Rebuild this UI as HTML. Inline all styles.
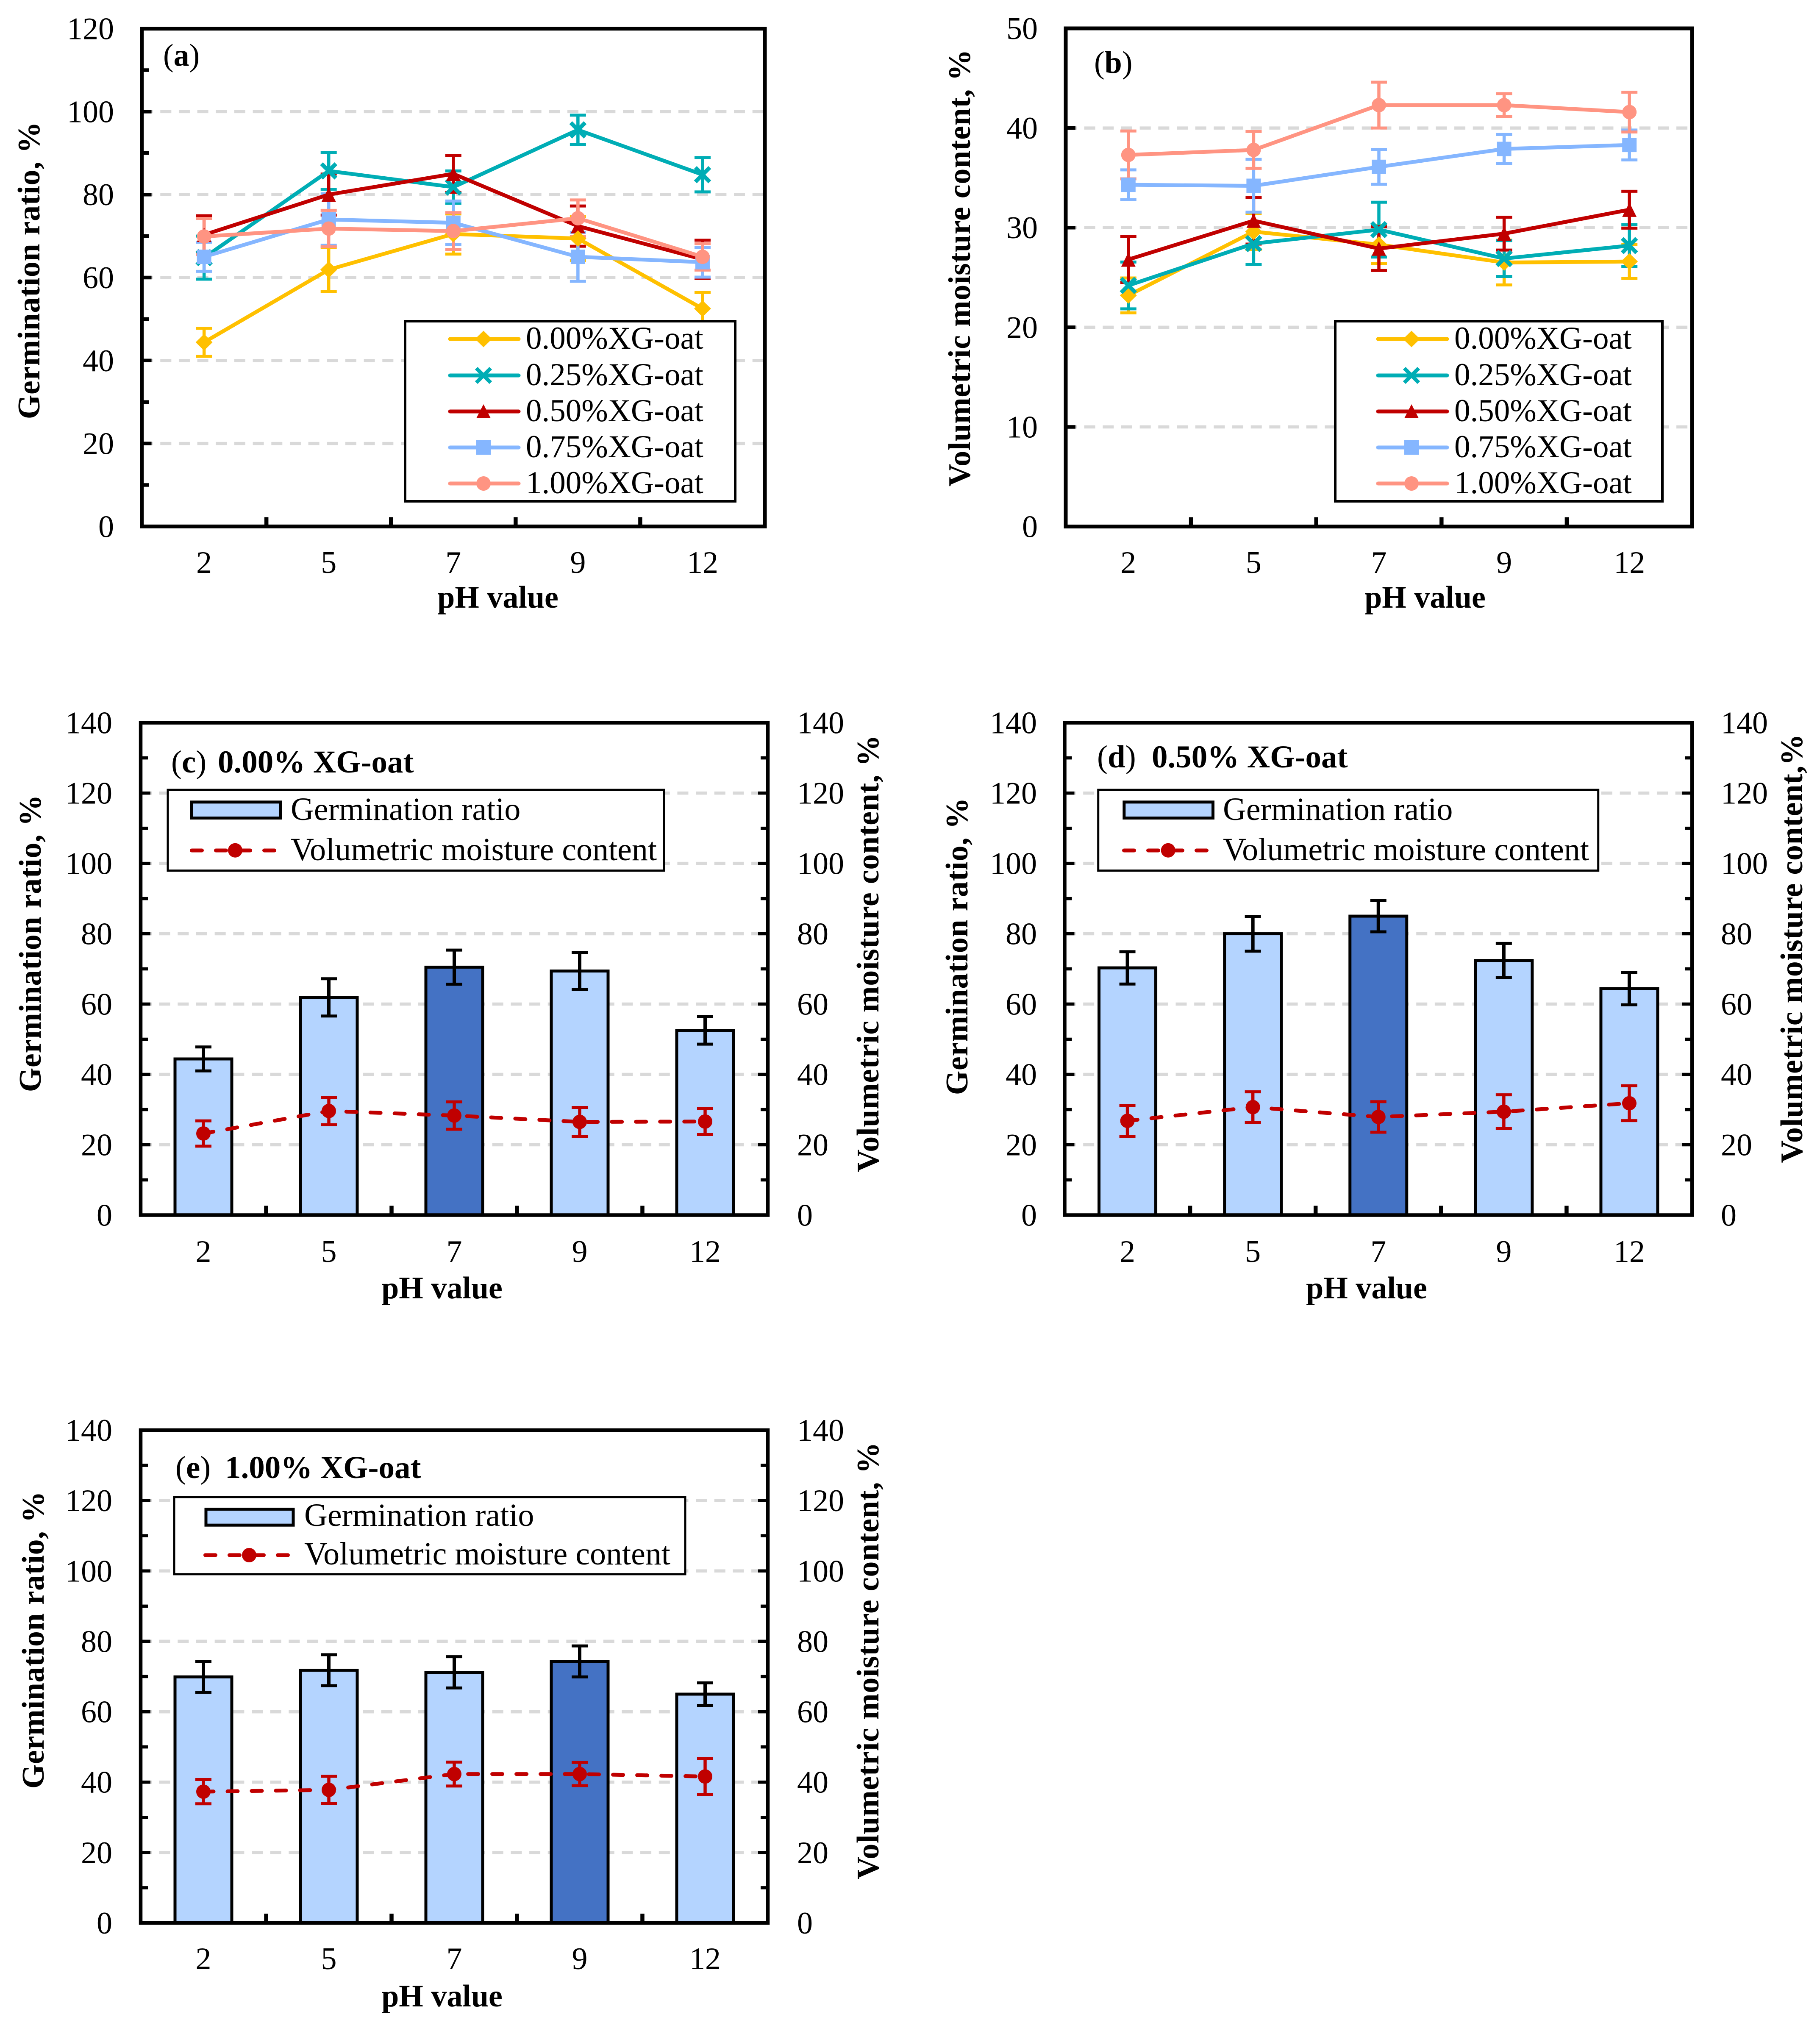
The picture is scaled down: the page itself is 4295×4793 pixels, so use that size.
<!DOCTYPE html>
<html lang="en">
<head>
<meta charset="utf-8">
<title>Germination ratio and volumetric moisture content by pH</title>
<style>
html,body{margin:0;padding:0;background:#fff;}
svg{display:block;}
text{font-family:"Liberation Serif",serif;font-size:74px;fill:#000;}
.b{font-weight:bold;}
.ttl{font-size:75px;}
.yt{letter-spacing:0.7px;}
.leg{fill:#fff;stroke:#000;stroke-width:6;}
.leg5{fill:#fff;stroke:#000;stroke-width:5;}
.ll{stroke-width:9;stroke-linecap:round;fill:none;}
.et{font-size:75px;}
.ec{font-size:76px;}
.dash{stroke:#C00000;stroke-width:9;stroke-dasharray:24 33;stroke-linecap:round;fill:none;}
</style>
</head>
<body>
<svg id="figure" width="4295" height="4793" viewBox="0 0 4295 4793">
<rect width="4295" height="4793" fill="#fff"/>

<!-- Panel a -->
<g id="panel-a"></g>
<text x="385" y="155" font-size="72">(<tspan class="b">a</tspan>)</text>
<text class="b yt" transform="rotate(-90 93 638)" x="93" y="638" text-anchor="middle">Germination ratio, %</text>
<text class="b" x="1175" y="1434" text-anchor="middle">pH value</text>
<g>
  <rect class="leg" x="956" y="758" width="779" height="425"/>
  <line class="ll" x1="1062" x2="1224" y1="800" y2="800" stroke="#FFC000"/>
  <polygon points="1121,800 1141,780.5 1161,800 1141,819.5" fill="#FFC000"/>
  <text class="et" x="1241" y="823">0.00%XG-oat</text>
  <line class="ll" x1="1062" x2="1224" y1="886" y2="886" stroke="#00ADB5"/>
  <path d="M1124 869L1158 903M1158 869L1124 903" stroke="#00ADB5" stroke-width="9" fill="none"/>
  <text class="et" x="1241" y="909">0.25%XG-oat</text>
  <line class="ll" x1="1062" x2="1224" y1="971" y2="971" stroke="#C00000"/>
  <polygon points="1141,954 1158,987 1124,987" fill="#C00000"/>
  <text class="et" x="1241" y="994">0.50%XG-oat</text>
  <line class="ll" x1="1062" x2="1224" y1="1056" y2="1056" stroke="#85B6FF"/>
  <rect x="1124" y="1039" width="34" height="34" fill="#85B6FF"/>
  <text class="et" x="1241" y="1079">0.75%XG-oat</text>
  <line class="ll" x1="1062" x2="1224" y1="1141" y2="1141" stroke="#FF9482"/>
  <circle cx="1141" cy="1141" r="17" fill="#FF9482"/>
  <text class="et" x="1241" y="1164">1.00%XG-oat</text>
</g>

<!-- Panel b -->
<g id="panel-b"></g>
<text x="2582" y="172" font-size="72">(<tspan class="b">b</tspan>)</text>
<text class="b yt" transform="rotate(-90 2289 632)" x="2289" y="632" text-anchor="middle">Volumetric moisture content, %</text>
<text class="b" x="3363" y="1434" text-anchor="middle">pH value</text>
<g>
  <rect class="leg" x="3151" y="758" width="772" height="425"/>
  <line class="ll" x1="3252" x2="3415" y1="800" y2="800" stroke="#FFC000"/>
  <polygon points="3311,800 3331,780.5 3351,800 3331,819.5" fill="#FFC000"/>
  <text class="et" x="3432" y="823">0.00%XG-oat</text>
  <line class="ll" x1="3252" x2="3415" y1="886" y2="886" stroke="#00ADB5"/>
  <path d="M3314 869L3348 903M3348 869L3314 903" stroke="#00ADB5" stroke-width="9" fill="none"/>
  <text class="et" x="3432" y="909">0.25%XG-oat</text>
  <line class="ll" x1="3252" x2="3415" y1="971" y2="971" stroke="#C00000"/>
  <polygon points="3331,954 3348,987 3314,987" fill="#C00000"/>
  <text class="et" x="3432" y="994">0.50%XG-oat</text>
  <line class="ll" x1="3252" x2="3415" y1="1056" y2="1056" stroke="#85B6FF"/>
  <rect x="3314" y="1039" width="34" height="34" fill="#85B6FF"/>
  <text class="et" x="3432" y="1079">0.75%XG-oat</text>
  <line class="ll" x1="3252" x2="3415" y1="1141" y2="1141" stroke="#FF9482"/>
  <circle cx="3331" cy="1141" r="17" fill="#FF9482"/>
  <text class="et" x="3432" y="1164">1.00%XG-oat</text>
</g>

<!-- Panel c -->
<g id="panel-c"></g>
<g>
  <text class="ttl" x="404" y="1823">(<tspan class="b">c</tspan>)</text>
  <text class="b ttl" x="514" y="1823">0.00% XG-oat</text>
</g>
<text class="b yt" transform="rotate(-90 96 2226)" x="96" y="2226" text-anchor="middle">Germination ratio, %</text>
<text class="b yt" transform="rotate(-90 2073 2250)" x="2073" y="2250" text-anchor="middle">Volumetric moisture content, %</text>
<text class="b" x="1043" y="3064" text-anchor="middle">pH value</text>
<g>
  <rect class="leg5" x="396" y="1864" width="1171" height="190.5"/>
  <rect x="452.5" y="1892.8" width="210" height="37.7" fill="#B4D4FF" stroke="#000" stroke-width="7"/>
  <text class="ec" x="686" y="1935">Germination ratio</text>
  <line class="dash" x1="452.5" x2="658" y1="2007" y2="2007"/>
  <circle cx="555" cy="2006.7" r="17" fill="#C00000"/>
  <text class="ec" x="686" y="2030">Volumetric moisture content</text>
</g>

<!-- Panel d -->
<g id="panel-d"></g>
<g>
  <text class="ttl" x="2589" y="1811">(<tspan class="b">d</tspan>)</text>
  <text class="b ttl" x="2718" y="1811">0.50% XG-oat</text>
</g>
<text class="b yt" transform="rotate(-90 2283 2233)" x="2283" y="2233" text-anchor="middle">Germination ratio, %</text>
<text class="b yt" transform="rotate(-90 4253 2238)" x="4253" y="2238" text-anchor="middle">Volumetric moisture content,%</text>
<text class="b" x="3225" y="3064" text-anchor="middle">pH value</text>
<g>
  <rect class="leg5" x="2591.7" y="1864" width="1180" height="190.5"/>
  <rect x="2652.8" y="1892.8" width="209.7" height="37.7" fill="#B4D4FF" stroke="#000" stroke-width="7"/>
  <text class="ec" x="2886" y="1935">Germination ratio</text>
  <line class="dash" x1="2652.5" x2="2860" y1="2007" y2="2007"/>
  <circle cx="2756.7" cy="2006.7" r="17" fill="#C00000"/>
  <text class="ec" x="2886" y="2030">Volumetric moisture content</text>
</g>

<!-- Panel e -->
<g id="panel-e"></g>
<g>
  <text class="ttl" x="414" y="3488">(<tspan class="b">e</tspan>)</text>
  <text class="b ttl" x="531" y="3488">1.00% XG-oat</text>
</g>
<text class="b yt" transform="rotate(-90 103 3870)" x="103" y="3870" text-anchor="middle">Germination ratio, %</text>
<text class="b yt" transform="rotate(-90 2073 3919)" x="2073" y="3919" text-anchor="middle">Volumetric moisture content, %</text>
<text class="b" x="1043" y="4735" text-anchor="middle">pH value</text>
<g>
  <rect class="leg5" x="411" y="3533" width="1206" height="182"/>
  <rect x="486" y="3561.5" width="206" height="37.7" fill="#B4D4FF" stroke="#000" stroke-width="7"/>
  <text class="ec" x="718" y="3601">Germination ratio</text>
  <line class="dash" x1="484.5" x2="690" y1="3670" y2="3670"/>
  <circle cx="588" cy="3670" r="17" fill="#C00000"/>
  <text class="ec" x="718" y="3692">Volumetric moisture content</text>
</g>
</svg>

<script>
// ---- Data ----
const categories = ['2', '5', '7', '9', '12'];

const germination000 = [44.4, 61.9, 70.5, 69.4, 52.5];
const germination025 = [64.8, 85.7, 81.8, 95.6, 84.8];
const germination050 = [70.3, 80.0, 85.0, 72.4, 64.4];
const germination075 = [65.0, 74.0, 73.2, 65.0, 63.7];
const germination100 = [69.9, 71.8, 71.2, 74.3, 65.0];

const germinationErr000 = [3.4, 5.3, 4.85, 5.3, 3.9];
const germinationErr025 = [5.2, 4.4, 3.9, 3.55, 4.15];
const germinationErr050 = [4.6, 4.95, 4.45, 4.85, 4.6];
const germinationErr075 = [3.5, 6.2, 5.25, 5.9, 3.6];
const germinationErr100 = [4.35, 4.4, 4.45, 4.4, 3.2];

const moisture000 = [23.2, 29.6, 28.3, 26.5, 26.6];
const moisture025 = [24.2, 28.4, 29.8, 26.9, 28.2];
const moisture050 = [26.8, 30.7, 27.9, 29.4, 31.8];
const moisture075 = [34.3, 34.2, 36.1, 37.9, 38.3];
const moisture100 = [37.3, 37.8, 42.3, 42.3, 41.6];

const moistureErr000 = [1.75, 1.8, 1.9, 2.25, 1.7];
const moistureErr025 = [2.35, 2.1, 2.75, 1.8, 2.1];
const moistureErr050 = [2.3, 2.35, 2.2, 1.65, 1.85];
const moistureErr075 = [1.5, 2.65, 1.75, 1.45, 1.5];
const moistureErr100 = [2.4, 1.85, 2.3, 1.15, 2.0];

const comboMoistureErrC = [3.6, 3.9, 3.9, 4.1, 3.7];
const comboMoistureErrD = [4.4, 4.35, 4.35, 4.8, 4.95];
const comboMoistureErrE = [3.45, 3.85, 3.4, 3.3, 5.1];

const germinationTicks = ['0', '20', '40', '60', '80', '100', '120'];
const germinationMinorTicks = [10, 30, 50, 70, 90, 110];
const moistureTicks = ['0', '10', '20', '30', '40', '50'];
const moistureMinorTicks = [];
const comboTicks = ['0', '20', '40', '60', '80', '100', '120', '140'];
const comboMinorTicks = [10, 30, 50, 70, 90, 110, 130];

const seriesNames = ['0-00', '0-25', '0-50', '0-75', '1-00'];
const seriesColors = ['#FFC000', '#00ADB5', '#C00000', '#85B6FF', '#FF9482'];
const seriesMarkers = ['diamond', 'cross', 'triangle', 'square', 'circle'];
const stackingOrderA = [1, 2, 0, 3, 4];
const stackingOrderB = [0, 1, 2, 3, 4];

// ---- Rendering ----
const NS = 'http://www.w3.org/2000/svg';

function add(parent, tag, attrs, name) {
  const el = document.createElementNS(NS, tag);
  for (const k in attrs) el.setAttribute(k, attrs[k]);
  
  
  parent.appendChild(el);
  return el;
}

function makeAxes(box, maxValue) {
  return {
    x: function (i) { return box.left + (i + 0.5) * (box.right - box.left) / categories.length; },
    y: function (v) { return box.bottom - v * (box.bottom - box.top) / maxValue; }
  };
}

function drawGrid(g, box, ax, ticks, maxValue) {
  ticks.forEach(function (t) {
    const v = +t;
    if (v <= 0 || v >= maxValue) return;
    add(g, 'line', {x1: box.left, x2: box.right, y1: ax.y(v), y2: ax.y(v), stroke: '#D9D9D9', 'stroke-width': 7.5, 'stroke-dasharray': '26 17.67'}, 'gridline-' + t);
  });
}

function drawFrame(g, box, ax, ticks, minorTicks, dual, lab) {
  const tw = lab.tickWidth;
  add(g, 'rect', {x: box.left, y: box.top, width: box.right - box.left, height: box.bottom - box.top, fill: 'none', stroke: '#000', 'stroke-width': lab.frameWidth}, 'plot-frame');
  ticks.forEach(function (t) {
    const y = ax.y(+t);
    add(g, 'line', {x1: box.left, x2: box.left + 23, y1: y, y2: y, stroke: '#000', 'stroke-width': tw}, 'y-tick-' + t);
    const left = add(g, 'text', {x: lab.left, y: y + 25, 'text-anchor': 'end'}, 'y-tick-label-' + t);
    left.textContent = t;
    if (dual) {
      add(g, 'line', {x1: box.right, x2: box.right - 23, y1: y, y2: y, stroke: '#000', 'stroke-width': tw}, 'right-y-tick-' + t);
      const right = add(g, 'text', {x: lab.right, y: y + 25}, 'right-y-tick-label-' + t);
      right.textContent = t;
    }
  });
  minorTicks.forEach(function (v) {
    const y = ax.y(v);
    add(g, 'line', {x1: box.left, x2: box.left + 17, y1: y, y2: y, stroke: '#000', 'stroke-width': tw}, 'y-minor-tick');
    if (dual) add(g, 'line', {x1: box.right, x2: box.right - 17, y1: y, y2: y, stroke: '#000', 'stroke-width': tw}, 'right-y-minor-tick');
  });
  categories.forEach(function (c, i) {
    if (i > 0) {
      const bx = ax.x(i) - (box.right - box.left) / categories.length / 2;
      add(g, 'line', {x1: bx, x2: bx, y1: box.bottom, y2: box.bottom - 22, stroke: '#000', 'stroke-width': 9.5}, 'x-tick');
    }
    const label = add(g, 'text', {x: ax.x(i), y: lab.xBase, 'text-anchor': 'middle'}, 'x-tick-label-' + c);
    label.textContent = c;
  });
}

function drawError(g, x, yHi, yLo, color, stem, cap, name) {
  add(g, 'line', {x1: x, x2: x, y1: yHi, y2: yLo, stroke: color, 'stroke-width': stem}, name + '-stem');
  add(g, 'line', {x1: x - 19, x2: x + 19, y1: yHi, y2: yHi, stroke: color, 'stroke-width': cap}, name + '-cap-upper');
  add(g, 'line', {x1: x - 19, x2: x + 19, y1: yLo, y2: yLo, stroke: color, 'stroke-width': cap}, name + '-cap-lower');
}

function drawMarker(g, kind, x, y, color, name) {
  if (kind === 'diamond') {
    add(g, 'polygon', {points: (x - 20) + ',' + y + ' ' + x + ',' + (y - 19.5) + ' ' + (x + 20) + ',' + y + ' ' + x + ',' + (y + 19.5), fill: color}, name);
  } else if (kind === 'cross') {
    add(g, 'path', {d: 'M' + (x - 17) + ' ' + (y - 17) + 'L' + (x + 17) + ' ' + (y + 17) + 'M' + (x + 17) + ' ' + (y - 17) + 'L' + (x - 17) + ' ' + (y + 17), stroke: color, 'stroke-width': 9.5, fill: 'none'}, name);
  } else if (kind === 'triangle') {
    add(g, 'polygon', {points: x + ',' + (y - 17) + ' ' + (x + 17) + ',' + (y + 17) + ' ' + (x - 17) + ',' + (y + 17), fill: color}, name);
  } else if (kind === 'square') {
    add(g, 'rect', {x: x - 17, y: y - 17, width: 34, height: 34, fill: color}, name);
  } else {
    add(g, 'circle', {cx: x, cy: y, r: 17, fill: color}, name);
  }
}

function linePath(ax, values) {
  return values.map(function (v, i) { return (i ? 'L' : 'M') + ax.x(i) + ' ' + ax.y(v); }).join('');
}

function drawLinePanel(id, box, lab, maxValue, ticks, minorTicks, seriesList, errorList, order) {
  const g = document.getElementById(id);
  const ax = makeAxes(box, maxValue);
  drawGrid(g, box, ax, ticks, maxValue);
  drawFrame(g, box, ax, ticks, minorTicks, false, lab);
  seriesList.forEach(function (values, s) {
    const eg = add(g, 'g', {}, 'error-bars-' + seriesNames[s]);
    values.forEach(function (v, i) {
      const e = errorList[s][i];
      drawError(eg, ax.x(i), ax.y(v + e), ax.y(v - e), seriesColors[s], 7.5, 7, 'error-bar');
    });
  });
  order.forEach(function (s) {
    const values = seriesList[s];
    const color = seriesColors[s];
    const sg = add(g, 'g', {}, 'series-' + seriesNames[s]);
    add(sg, 'path', {d: linePath(ax, values), fill: 'none', stroke: color, 'stroke-width': 9, 'stroke-linejoin': 'round'}, 'series-line');
    values.forEach(function (v, i) {
      drawMarker(sg, seriesMarkers[s], ax.x(i), ax.y(v), color, 'point-' + categories[i]);
    });
  });
}

function drawComboPanel(id, box, lab, barValues, barErrors, lineValues, lineErrors, highlight) {
  const g = document.getElementById(id);
  const maxValue = 140;
  const ax = makeAxes(box, maxValue);
  drawGrid(g, box, ax, comboTicks, maxValue);
  barValues.forEach(function (v, i) {
    add(g, 'rect', {x: ax.x(i) - 67, y: ax.y(v), width: 134, height: ax.y(0) - ax.y(v), fill: i === highlight ? '#4472C4' : '#B4D4FF', stroke: '#000', 'stroke-width': 7}, 'bar-ph-' + categories[i]);
  });
  drawFrame(g, box, ax, comboTicks, comboMinorTicks, true, lab);
  barValues.forEach(function (v, i) {
    drawError(g, ax.x(i), ax.y(v + barErrors[i]), ax.y(v - barErrors[i]), '#000', 8, 7, 'bar-error');
  });
  add(g, 'path', {d: linePath(ax, lineValues), 'class': 'dash'}, 'moisture-line');
  lineValues.forEach(function (v, i) {
    drawError(g, ax.x(i), ax.y(v + lineErrors[i]), ax.y(v - lineErrors[i]), '#C00000', 7.5, 7, 'moisture-error');
    drawMarker(g, 'circle', ax.x(i), ax.y(v), '#C00000', 'moisture-point-' + categories[i]);
  });
}

drawLinePanel('panel-a', {left: 334.6, right: 1805, top: 67.6, bottom: 1242.4}, {left: 269, xBase: 1352, tickWidth: 8.5, frameWidth: 9}, 120,
  germinationTicks, germinationMinorTicks,
  [germination000, germination025, germination050, germination075, germination100],
  [germinationErr000, germinationErr025, germinationErr050, germinationErr075, germinationErr100],
  stackingOrderA);

drawLinePanel('panel-b', {left: 2515, right: 3993, top: 67, bottom: 1242.6}, {left: 2449, xBase: 1352, tickWidth: 8.5, frameWidth: 9}, 50,
  moistureTicks, moistureMinorTicks,
  [moisture000, moisture025, moisture050, moisture075, moisture100],
  [moistureErr000, moistureErr025, moistureErr050, moistureErr075, moistureErr100],
  stackingOrderB);

drawComboPanel('panel-c', {left: 332, right: 1812, top: 1705.6, bottom: 2867.5}, {left: 265, right: 1881, xBase: 2978, tickWidth: 7.5, frameWidth: 8.5},
  germination000, germinationErr000, moisture000, comboMoistureErrC, 2);

drawComboPanel('panel-d', {left: 2512.5, right: 3993, top: 1705.6, bottom: 2867.5}, {left: 2447, right: 4061, xBase: 2978, tickWidth: 7.5, frameWidth: 8.5},
  germination050, germinationErr050, moisture050, comboMoistureErrD, 2);

drawComboPanel('panel-e', {left: 332, right: 1812, top: 3375, bottom: 4538}, {left: 265, right: 1881, xBase: 4647, tickWidth: 7.5, frameWidth: 8.5},
  germination100, germinationErr100, moisture100, comboMoistureErrE, 3);
</script>
</body>
</html>
